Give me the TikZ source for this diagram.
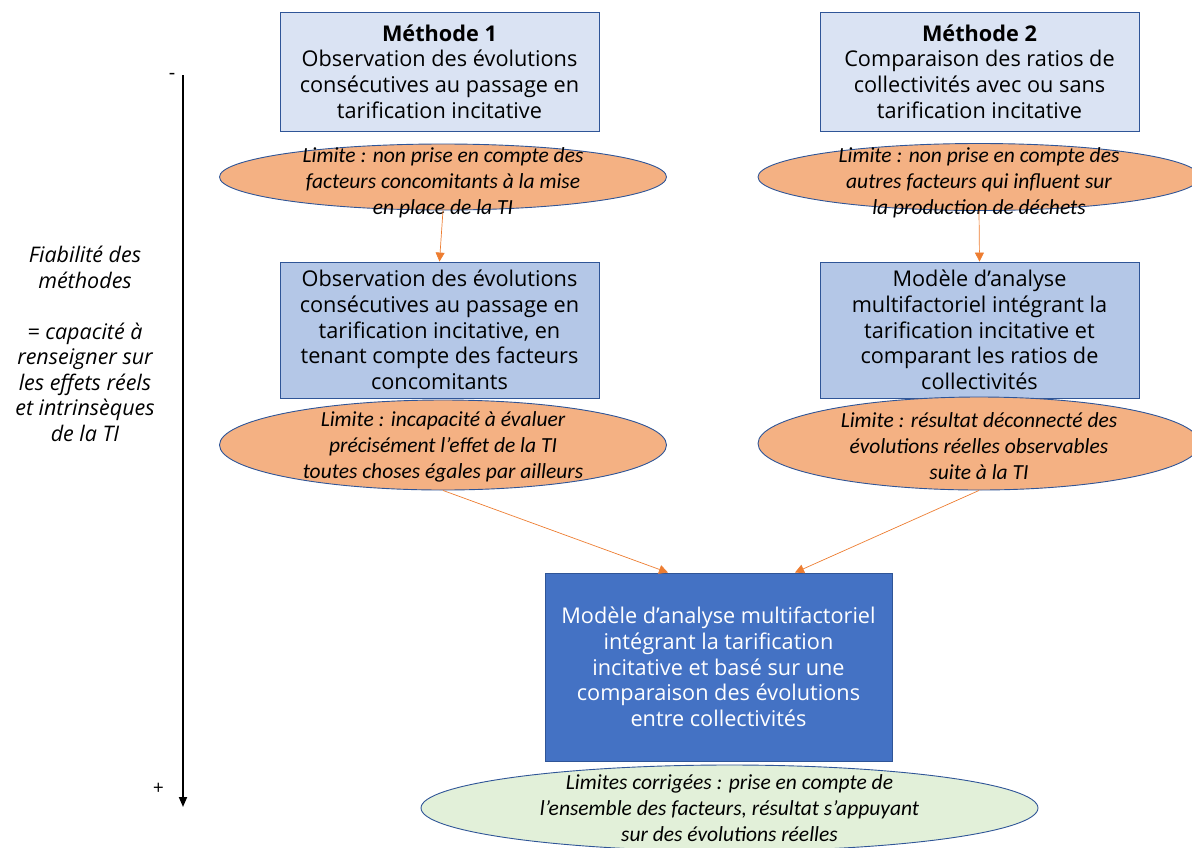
\documentclass[tikz,border=0pt]{standalone}
\usepackage{fontspec}
\setmainfont{Open Sans}
\newfontfamily\limfont{Carlito}
\usetikzlibrary{shapes.geometric,arrows.meta}
\definecolor{boxline}{HTML}{2F5597}
\definecolor{paleblue}{HTML}{DAE3F3}
\definecolor{midblue}{HTML}{B4C7E7}
\definecolor{deepblue}{HTML}{4472C4}
\definecolor{limfill}{HTML}{F4B183}
\definecolor{okfill}{HTML}{E2F0D9}
\definecolor{flow}{HTML}{ED7D31}
\tikzset{
  x=1pt, y=-1pt,
  method/.style={draw=boxline, line width=0.9pt, minimum width=319pt, align=center, inner sep=0pt,
    font=\fontsize{21.7}{25.7}\selectfont},
  limit/.style={ellipse, draw=boxline, line width=0.9pt, fill=limfill, inner sep=0pt},
  limtext/.style={align=center, inner sep=0pt, font=\limfont\itshape\fontsize{21.5}{25.8}\selectfont},
  flowarrow/.style={draw=flow, line width=0.7pt, -{Triangle[length=9pt,width=9pt]}},
}
\begin{document}
\begin{tikzpicture}
\useasboundingbox (0,0) rectangle (1192,847);

% reliability axis
\coordinate (axtop) at (183,75);
\coordinate (axbot) at (183,807);
\draw[line width=1.8pt, -{Triangle[length=10pt,width=8pt]}] (axtop) -- (axbot);
\node[font=\fontsize{20}{20}\selectfont] (minus) at (172,76) {-};
\node[font=\itshape\fontsize{19}{19}\selectfont] (plus) at (158,789) {+};
\node[align=center, font=\itshape\fontsize{21.5}{25.5}\selectfont] (axlabel) at (85,344)
  {Fiabilité des\\méthodes\\[25.5pt]= capacité à\\renseigner sur\\les effets réels\\et intrinsèques\\de la TI};

% method 1 column
\node[method, fill=paleblue, minimum height=119pt] (m1) at (439.5,71.5)
  {\textbf{Méthode 1}\\Observation des évolutions\\consécutives au passage en\\tarification incitative};
\node[limit, minimum width=447pt, minimum height=66pt] (l1) at (443,177) {};
\node[limtext] (l1t) at (443,183)
  {Limite : non prise en compte des\\facteurs concomitants à la mise\\en place de la TI};
\node[method, fill=midblue, minimum height=136pt] (m3) at (439.5,330)
  {Observation des évolutions\\consécutives au passage en\\tarification incitative, en\\tenant compte des facteurs\\concomitants};
\node[limit, minimum width=447pt, minimum height=90pt] (l3) at (443,445) {};
\node[limtext] (l3t) at (443,447)
  {Limite : incapacité à évaluer\\précisément l’effet de la TI\\toutes choses égales par ailleurs};

% method 2 column
\node[method, fill=paleblue, minimum height=119pt] (m2) at (979.5,71.5)
  {\textbf{Méthode 2}\\Comparaison des ratios de\\collectivités avec ou sans\\tarification incitative};
\node[limit, minimum width=442pt, minimum height=67pt] (l2) at (979,177) {};
\node[limtext] (l2t) at (979,183)
  {Limite : non prise en compte des\\autres facteurs qui influent sur\\la production de déchets};
\node[method, fill=midblue, minimum height=136pt] (m4) at (979.5,330)
  {Modèle d’analyse\\multifactoriel intégrant la\\tarification incitative et\\comparant les ratios de\\collectivités};
\node[limit, minimum width=442pt, minimum height=93pt] (l4) at (979,443.5) {};
\node[limtext] (l4t) at (979,446)
  {Limite : résultat déconnecté des\\évolutions réelles observables\\suite à la TI};

% combined model
\node[method, fill=deepblue, text=white, minimum width=347pt, minimum height=188pt] (m5) at (718.5,667)
  {Modèle d’analyse multifactoriel\\intégrant la tarification\\incitative et basé sur une\\comparaison des évolutions\\entre collectivités};
\node[limit, fill=okfill, minimum width=617pt, minimum height=86pt] (l5) at (729.5,808) {};
\node[limtext] (l5t) at (729.5,808)
  {Limites corrigées : prise en compte de\\l’ensemble des facteurs, résultat s’appuyant\\sur des évolutions réelles};

% connectors
\draw[flowarrow] (l1.south) -- (m3.north);
\draw[flowarrow] (l2.south) -- (m4.north);
\draw[flowarrow] (l3.south) -- (m5.north -| 668,0);
\draw[flowarrow] (l4.south) -- (m5.north -| 795,0);
\end{tikzpicture}
\end{document}
